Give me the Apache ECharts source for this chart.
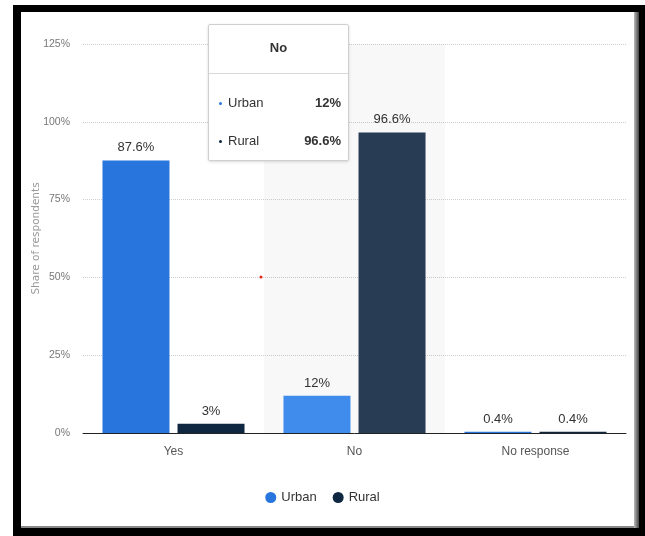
<!DOCTYPE html>
<html>
<head>
<meta charset="utf-8">
<script src="https://cdn.jsdelivr.net/npm/echarts@6/dist/echarts.min.js"></script>
<style>
  html, body { margin: 0; padding: 0; background: #fff; }
  #chart { width: 645px; height: 536px; }
</style>
</head>
<body>
<div id="chart"></div>
<script>
// ---- data ----
var categories = ['Yes', 'No', 'No response'];
var urbanValues = [87.6, 12, 0.4];
var ruralValues = [3, 96.6, 0.4];
var seriesNames = ['Urban', 'Rural'];
var yTicks = [0, 25, 50, 75, 100, 125];
var hoverIndex = 1;

var FONT = "'Liberation Sans Narrow', 'Liberation Sans', sans-serif";
var colors = { Urban: '#2876dd', Rural: '#0f2741' };
var hoverColors = { Urban: '#4190f4', Rural: '#2a3f57' };

var chart = echarts.init(document.getElementById('chart'), null, { renderer: 'canvas' });

function tipHtml(params) {
  var title = params[0].axisValue;
  var html = '<div style="width:139px;height:134px;font-family:' + FONT.replace(/'/g, '&quot;') + ';color:#333;">';
  html += '<div style="height:48px;line-height:46px;text-align:center;font-size:13px;font-weight:bold;border-bottom:1px solid #d8d8d8;">' + title + '</div>';
  html += '<div style="padding-top:10px;">';
  params.forEach(function (p) {
    html += '<div style="height:38px;line-height:38px;font-size:13px;padding:0 7px 0 10px;position:relative;">' +
      '<span style="display:inline-block;width:3px;height:3px;border-radius:2px;background:' + colors[p.seriesName] + ';vertical-align:middle;margin-right:6px;"></span>' +
      '<span>' + p.seriesName + '</span>' +
      '<span style="float:right;font-weight:bold;">' + p.value + '%</span></div>';
  });
  html += '</div></div>';
  return html;
}

var option = {
  animation: false,
  grid: { left: 83, right: 19, top: 44, bottom: 103, containLabel: false },
  tooltip: {
    trigger: 'axis',
    alwaysShowContent: true,
    transitionDuration: 0,
    position: [208, 24],
    padding: 0,
    borderColor: '#cfcfcf',
    borderWidth: 1,
    borderRadius: 2,
    backgroundColor: '#fff',
    extraCssText: 'box-shadow: 0 1px 3px rgba(0,0,0,0.15);',
    axisPointer: {
      type: 'shadow',
      shadowStyle: { color: 'rgba(0,0,0,0.028)' }
    },
    formatter: tipHtml
  },
  legend: {
    data: seriesNames,
    bottom: 27,
    left: 'center',
    icon: 'circle',
    itemWidth: 11,
    itemHeight: 11,
    itemGap: 16,
    textStyle: { fontFamily: FONT, fontSize: 13, color: '#333' }
  },
  xAxis: {
    type: 'category',
    data: categories,
    axisLine: { lineStyle: { color: '#222', width: 1 } },
    axisTick: { show: false },
    axisLabel: { fontFamily: FONT, fontSize: 12, color: '#555', margin: 13 }
  },
  yAxis: {
    type: 'value',
    min: 0,
    max: 125,
    interval: 25,
    name: 'Share of respondents',
    nameLocation: 'middle',
    nameGap: 41,
    nameMoveOverlap: false,
    nameTextStyle: { fontFamily: "'DejaVu Sans', sans-serif", fontSize: 10.5, color: '#999' },
    axisLine: { show: false },
    axisTick: { show: false },
    axisLabel: { fontFamily: FONT, fontSize: 10.5, color: '#777', margin: 13, formatter: '{value}%' },
    splitLine: { lineStyle: { color: '#cfcfcf', type: [1, 1], width: 1 } }
  },
  series: seriesNames.map(function (name, si) {
    var vals = si === 0 ? urbanValues : ruralValues;
    return {
      name: name,
      type: 'bar',
      data: vals,
      barWidth: 67,
      barGap: '12%',
      itemStyle: { color: colors[name] },
      emphasis: { itemStyle: { color: hoverColors[name] } },
      label: {
        show: true,
        position: 'top',
        distance: 6,
        fontFamily: FONT,
        fontSize: 13,
        color: '#333',
        formatter: '{c}%'
      }
    };
  }),
  graphic: [
    { type: 'rect', silent: true, z: -10, shape: { x: 13, y: 5, width: 632, height: 531 }, style: { fill: '#000' } },
    { type: 'rect', silent: true, z: -9, shape: { x: 634, y: 12, width: 5, height: 516 }, style: { fill: new echarts.graphic.LinearGradient(0, 0, 1, 0, [{ offset: 0, color: '#bbb' }, { offset: 1, color: '#444' }]) } },
    { type: 'rect', silent: true, z: -9, shape: { x: 21, y: 526, width: 613, height: 2 }, style: { fill: '#888' } },
    { type: 'rect', silent: true, z: -8, shape: { x: 21, y: 12, width: 613, height: 514 }, style: { fill: '#fff' } },
    { type: 'circle', silent: true, z: 100, shape: { cx: 261, cy: 277, r: 1.5 }, style: { fill: '#e8261f' } }
  ]
};

chart.setOption(option);
chart.dispatchAction({ type: 'showTip', seriesIndex: 0, dataIndex: hoverIndex });
</script>
</body>
</html>
